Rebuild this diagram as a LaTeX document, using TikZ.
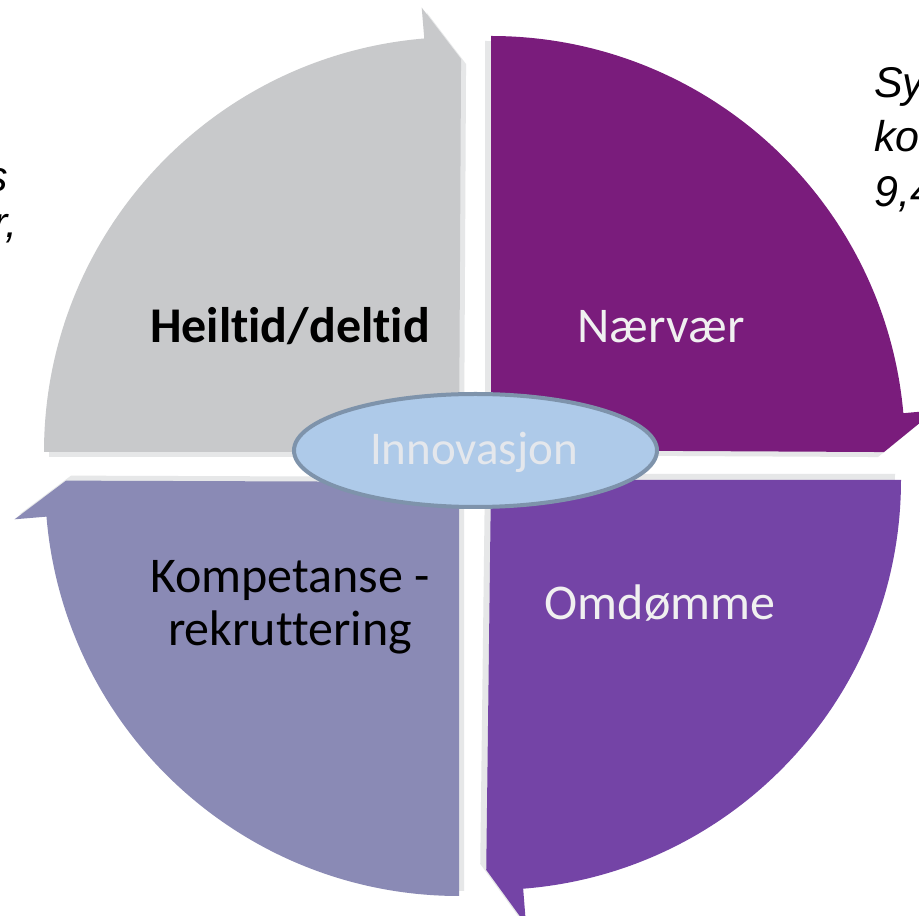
\documentclass[tikz,border=0pt]{standalone}
\usepackage{fontspec}
\setmainfont{Carlito}[Ligatures={NoCommon}]
\newfontfamily\fragfont{Liberation Sans}
\usetikzlibrary{calc,shapes.geometric}
\definecolor{qgray}{HTML}{C8C9CB}
\definecolor{qpurple}{HTML}{7A1C7C}
\definecolor{qviolet}{HTML}{7444A6}
\definecolor{qlav}{HTML}{8A8AB5}
\definecolor{qshadow}{HTML}{E6E7E8}
\definecolor{ellfill}{HTML}{AECAE9}
\definecolor{elldraw}{HTML}{7E93AB}
\definecolor{lighttext}{HTML}{F0F0F0}
\definecolor{innovtext}{HTML}{E4E7EC}
% corner, start angle, end angle, radius, barb radius, tip radius, tip angle
\newcommand{\arrowq}[7]{(#1) -- ($(#1)+(#2:#4)$) arc[start angle=#2,end angle=#3,radius=#4] -- ($(#1)+(#3:#5)$) -- ($(#1)+(#7:#6)$) -- cycle}
\tikzset{
  label50/.style={font=\fontsize{50}{60}\selectfont, inner sep=0pt, anchor=base},
  fragtext/.style={font=\fragfont\itshape\fontsize{43}{50}\selectfont, inner sep=0pt, text=black}
}
\begin{document}
\begin{tikzpicture}[x=1pt,y=1pt]
\useasboundingbox (0,0) rectangle (919,916);
\clip (0,0) rectangle (919,916);
\fill[white] (0,0) rectangle (919,916);
% corners of the four quarter arrows
\coordinate (c1) at (459,464);
\coordinate (c2) at (491,466);
\coordinate (c3) at (491,436);
\coordinate (c4) at (459,434);
% shadow corners
\coordinate (s1) at (464,459);
\coordinate (s2) at (485,461);
\coordinate (s3) at (485,442);
\coordinate (s4) at (464,439);
% text fragments at the edges
\node[fragtext, anchor=base east] (fragl1) at (8,724) {s};
\node[fragtext, anchor=base east] (fragl2) at (18,678) {r,};
\node[fragtext, anchor=base west] (fragr1) at (874,818) {Sy};
\node[fragtext, anchor=base west] (fragr2) at (874,764) {ko};
\node[fragtext, anchor=base west] (fragr3) at (874,709) {9,4};
% shadows
\fill[qshadow] \arrowq{s1}{180}{94.8}{415}{446}{393}{89.7};
\fill[qshadow] \arrowq{s2}{90}{5.1}{414}{446}{393}{-0.3};
\fill[qshadow] \arrowq{s3}{0}{-85.5}{410}{446}{390}{-90.7};
\fill[qshadow] \arrowq{s4}{-90}{-175.2}{414}{446}{393}{-180.2};
% quarter arrows
\fill[qgray] \arrowq{c1}{180}{94.8}{415}{446}{393}{89.7};
\fill[qpurple] \arrowq{c2}{90}{5.1}{414}{446}{393}{-0.3};
\fill[qviolet] \arrowq{c3}{0}{-85.5}{410}{446}{390}{-90.7};
\fill[qlav] \arrowq{c4}{-90}{-175.2}{414}{446}{393}{-180.2};
% labels
\node[label50, font=\bfseries\fontsize{50}{60}\selectfont, text=black] (heiltid) at (290,573) {Heiltid/deltid};
\node[label50, text=lighttext] (naervaer) at (661,573) {Nærvær};
\node[label50, text=black] (komp1) at (290,323) {Kompetanse -};
\node[label50, text=black] (komp2) at (290,270) {rekruttering};
\node[label50, text=lighttext] (omdomme) at (660,296) {Omdømme};
% centre ellipse
\node[ellipse, draw=elldraw, line width=4pt, fill=ellfill, minimum width=363, minimum height=113, inner sep=0pt] (innov) at (475.5,465.5) {};
\node[font=\fontsize{47}{56}\selectfont, text=innovtext, inner sep=0pt, anchor=base] (innovlabel) at (474,451) {Innovasjon};
\end{tikzpicture}
\end{document}
